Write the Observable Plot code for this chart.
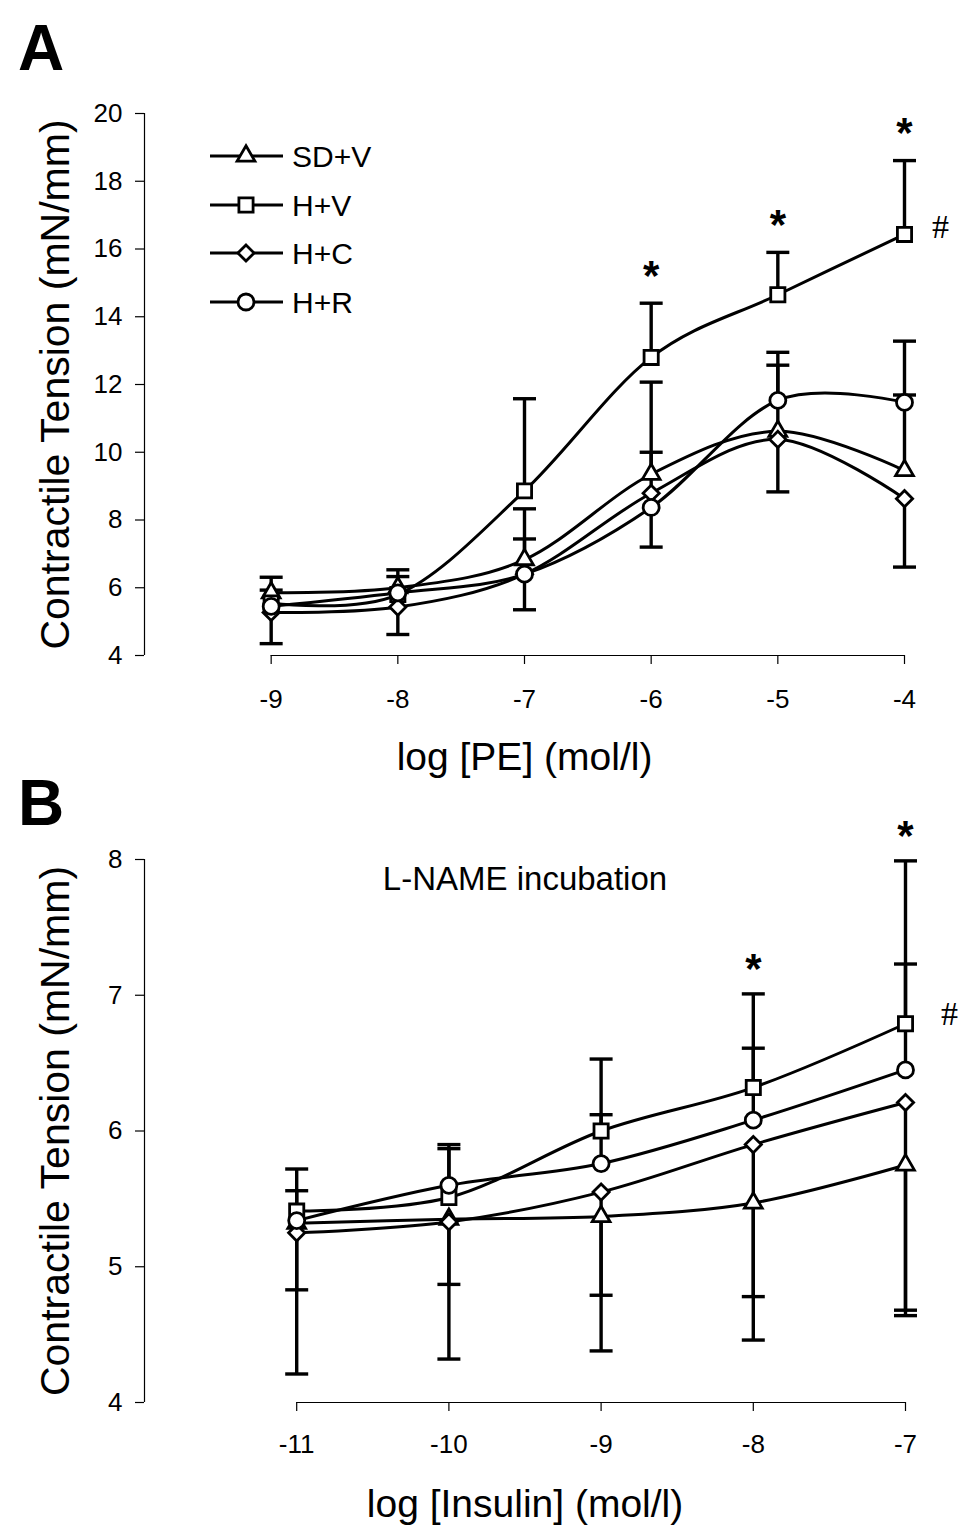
<!DOCTYPE html>
<html><head><meta charset="utf-8">
<script src="https://cdn.jsdelivr.net/npm/d3@7"></script>
<script src="https://cdn.jsdelivr.net/npm/@observablehq/plot@0.6"></script>
<style>
body{margin:0;background:#fff;}
#wrap{position:relative;width:972px;height:1536px;background:#fff;font-family:"Liberation Sans",Arial,sans-serif;}
.panel{position:absolute;left:0;}
#overlay{position:absolute;left:0;top:0;pointer-events:none;}
</style></head><body>
<div id="wrap">
  <div class="panel" id="pA" style="top:0"></div>
  <div class="panel" id="pB" style="top:770px"></div>
  <svg id="overlay" width="972" height="1536"></svg>
</div>
<script>
// ---------- data ----------
const seriesNames = ["SD+V", "H+V", "H+C", "H+R"];

// Panel A : log [PE]
const xA = [-9, -8, -7, -6, -5, -4];
const A_SDV = [5.85, 6.0, 6.83, 9.35, 10.62, 9.46];
const A_HV  = [5.55, 5.8, 8.86, 12.8, 14.65, 16.43];
const A_HC  = [5.27, 5.43, 6.4, 8.79, 10.38, 8.63];
const A_HR  = [5.45, 5.85, 6.4, 8.37, 11.53, 11.47];
// error bar ends (value of the cap)
const capA_SDV = [5.93, 6.33, 8.33, 12.07, 12.57, 11.69];
const capA_HV  = [6.31, 6.53, 11.58, 14.4, 15.9, 18.61];
const capA_HC  = [4.35, 4.62, 7.44, 10.0, 8.83, 6.61];
const capA_HR  = [null, null, 5.35, 7.2, 12.95, 13.28];
const yTicksA = [4, 6, 8, 10, 12, 14, 16, 18, 20];
const starsA = [-6, -5, -4];

// Panel B : log [Insulin], L-NAME incubation
const xB = [-11, -10, -9, -8, -7];
const B_SDV = [5.32, 5.35, 5.37, 5.47, 5.75];
const B_HV  = [5.41, 5.51, 6.0, 6.32, 6.79];
const B_HC  = [5.25, 5.33, 5.55, 5.90, 6.21];
const B_HR  = [5.34, 5.6, 5.76, 6.08, 6.45];
const capB_SDV = [4.83, 4.87, 4.79, 4.78, 4.68];
const capB_HV  = [5.72, 5.90, 6.53, 7.01, 7.99];
const capB_HC  = [4.21, 4.32, 4.38, 4.46, 4.64];
const capB_HR  = [5.56, 5.87, 6.12, 6.61, 7.23];
const yTicksB = [4, 5, 6, 7, 8];
const starsB = [-8, -7];

const yTitle = "Contractile Tension (mN/mm)";
const xTitleA = "log [PE] (mol/l)";
const xTitleB = "log [Insulin] (mol/l)";
const noteB = "L-NAME incubation";

// ---------- styles ----------
const FONT = "'Liberation Sans', Arial, Helvetica, sans-serif";
const SERIF = "'Liberation Serif', 'Times New Roman', serif";
const symbolOf = {"SD+V": "triangle", "H+V": "square", "H+C": "diamond2", "H+R": "circle"};
const rOf = {"SD+V": 6.6, "H+V": 8, "H+C": 7.3, "H+R": 8};
const d3Sym = {triangle: d3.symbolTriangle, square: d3.symbolSquare, diamond2: d3.symbolDiamond2, circle: d3.symbolCircle};
const capSymbol = {draw(ctx, size) { const r = Math.sqrt(size / Math.PI); ctx.moveTo(-r, 0); ctx.lineTo(r, 0); }};

function table(xs, vals, caps) {
  const rows = [];
  seriesNames.forEach((s, i) => xs.forEach((x, j) => rows.push({series: s, x, y: vals[i][j], cap: caps[i][j]})));
  return rows;
}

function panel({xs, vals, caps, xDomain, yDomain, yTicks, stars, xTitle, note, height, marginTop, marginBottom, marginRight, xTickPad, hashDx, hashDy, starDy}) {
  const rows = table(xs, vals, caps);
  const capRows = rows.filter(d => d.cap != null);
  const hv = rows.filter(d => d.series === "H+V");
  const starRows = hv.filter(d => stars.includes(d.x));
  const lastHV = [hv[hv.length - 1]];
  const marks = [
    Plot.ruleX([xDomain[0]], {y1: yDomain[0], y2: yDomain[1], strokeWidth: 1.2}),
    Plot.ruleY([yDomain[0]], {x1: d3.min(xs), x2: d3.max(xs), strokeWidth: 1.2}),
    Plot.axisY({ticks: yTicks, tickSize: 9, tickPadding: 13, fontSize: 26, label: null, tickFormat: d => String(d), strokeWidth: 1.2}),
    Plot.axisX({ticks: xs, tickSize: 9, tickPadding: xTickPad, fontSize: 26, label: null, tickFormat: d => String(d), strokeWidth: 1.2}),
    Plot.text([yTitle], {frameAnchor: "left", rotate: -90, textAnchor: "middle", lineAnchor: "middle", dx: -89, fontSize: 41}),
    Plot.text([xTitle], {frameAnchor: "bottom", textAnchor: "middle", lineAnchor: "middle", dy: 102, fontSize: 39}),
    Plot.ruleX(capRows, {x: "x", y1: "y", y2: "cap", strokeWidth: 3.4}),
    Plot.dot(capRows, {x: "x", y: "cap", symbol: capSymbol, r: 11.5, stroke: "black", strokeWidth: 3.4, fill: "none"}),
  ];
  seriesNames.forEach(s => {
    marks.push(Plot.line(rows.filter(d => d.series === s), {x: "x", y: "y", curve: "cardinal", stroke: "black", strokeWidth: 3}));
  });
  seriesNames.forEach(s => {
    marks.push(Plot.dot(rows.filter(d => d.series === s), {x: "x", y: "y", symbol: symbolOf[s], r: rOf[s], fill: "white", stroke: "black", strokeWidth: 2.8}));
  });
  marks.push(Plot.text(starRows, {x: "x", y: "cap", text: () => "*", dy: starDy, fontSize: 42, fontWeight: "bold", fontFamily: FONT}));
  marks.push(Plot.text(lastHV, {x: "x", y: "y", text: () => "#", dx: hashDx, dy: hashDy, fontSize: 34, fontFamily: SERIF}));
  if (note) marks.push(Plot.text([note], {frameAnchor: "top", textAnchor: "middle", lineAnchor: "middle", dy: 20, fontSize: 33}));
  return Plot.plot({
    width: 972, height, marginLeft: 144, marginRight, marginTop, marginBottom,
    x: {domain: xDomain}, y: {domain: yDomain},
    style: {fontFamily: FONT, background: "none", color: "black", overflow: "visible"},
    marks
  });
}

document.getElementById("pA").append(panel({
  xs: xA, vals: [A_SDV, A_HV, A_HC, A_HR], caps: [capA_SDV, capA_HV, capA_HC, capA_HR],
  xDomain: [-10, -4], yDomain: [4, 20], yTicks: yTicksA, stars: starsA, xTitle: xTitleA, note: null,
  height: 770, marginTop: 113, marginBottom: 115, marginRight: 68, xTickPad: 25, hashDx: 36, hashDy: -7, starDy: -27
}));
document.getElementById("pB").append(panel({
  xs: xB, vals: [B_SDV, B_HV, B_HC, B_HR], caps: [capB_SDV, capB_HV, capB_HC, capB_HR],
  xDomain: [-12, -7], yDomain: [4, 8], yTicks: yTicksB, stars: starsB, xTitle: xTitleB, note: noteB,
  height: 766, marginTop: 89, marginBottom: 134, marginRight: 67, xTickPad: 23, hashDx: 44, hashDy: -10, starDy: -24
}));

// ---------- overlay: panel letters and legend ----------
const ov = d3.select("#overlay");
const letters = [{t: "A", x: 18, y: 70}, {t: "B", x: 18, y: 825}];
ov.selectAll("text.letter").data(letters).join("text")
  .attr("x", d => d.x).attr("y", d => d.y).text(d => d.t)
  .attr("font-family", FONT).attr("font-weight", "bold").attr("font-size", 64).attr("fill", "black");

const legendRows = [156, 205, 253, 302];
const lg = ov.append("g");
seriesNames.forEach((s, i) => {
  const y = legendRows[i];
  lg.append("line").attr("x1", 210).attr("x2", 283).attr("y1", y).attr("y2", y).attr("stroke", "black").attr("stroke-width", 3);
  lg.append("path").attr("transform", `translate(246,${y})`)
    .attr("d", d3.symbol(d3Sym[symbolOf[s]], Math.PI * rOf[s] * rOf[s])())
    .attr("fill", "white").attr("stroke", "black").attr("stroke-width", 2.8);
  lg.append("text").attr("x", 292).attr("y", y).attr("dy", "0.36em").text(s)
    .attr("font-family", FONT).attr("font-size", 30).attr("fill", "black");
});
</script>
</body></html>
